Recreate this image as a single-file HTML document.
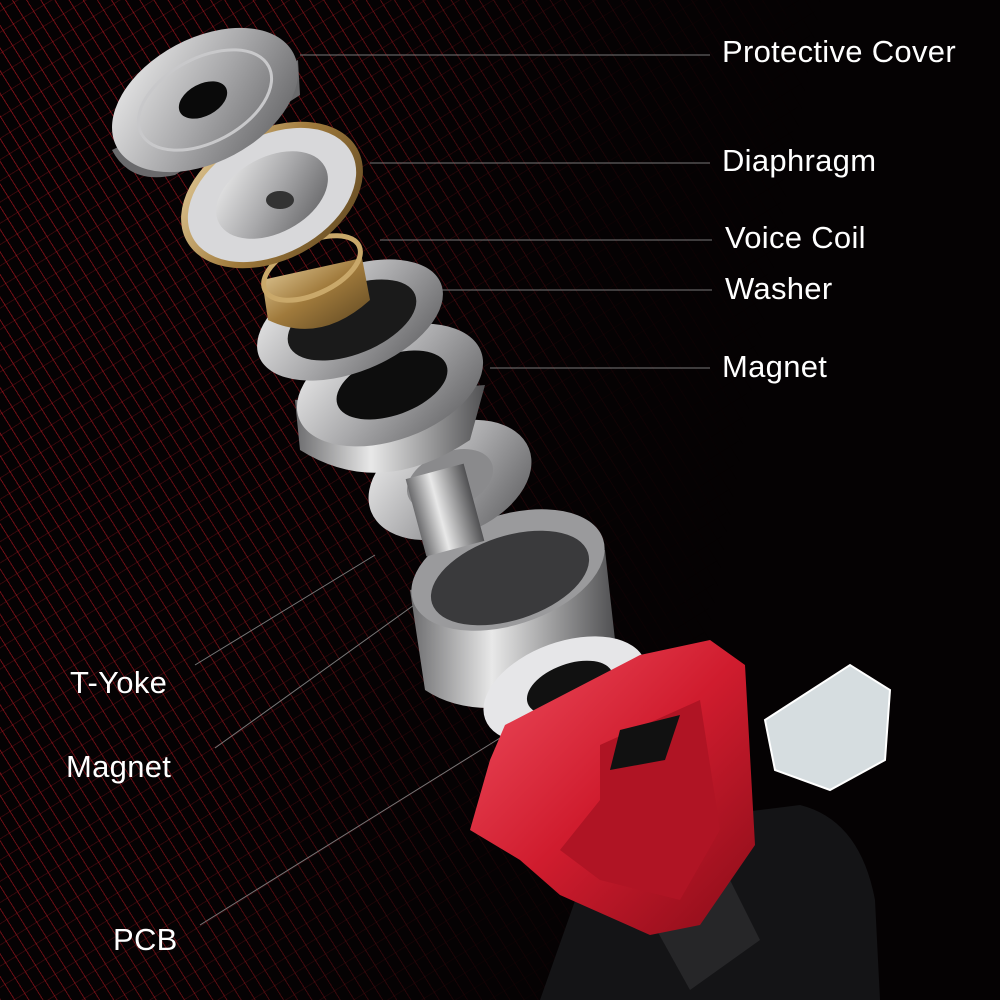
<!DOCTYPE html>
<html><head><meta charset="utf-8"><style>
html,body{margin:0;padding:0;background:#000;}
#c{position:relative;width:1000px;height:1000px;overflow:hidden;background:#050203;}
.pat{position:absolute;left:0;top:0;width:1000px;height:1000px;
background:repeating-linear-gradient(58deg,rgba(190,25,35,0.6) 0 1px,transparent 1px 12px),
repeating-linear-gradient(-32deg,rgba(150,20,28,0.35) 0 1px,transparent 1px 18px);
-webkit-mask-image:linear-gradient(100deg,#000 0%,rgba(0,0,0,.8) 30%,rgba(0,0,0,0.15) 55%,transparent 70%);
mask-image:linear-gradient(100deg,#000 0%,rgba(0,0,0,.8) 30%,rgba(0,0,0,0.15) 55%,transparent 70%);}
svg{position:absolute;left:0;top:0}
.l{position:absolute;color:#fff;font-family:"Liberation Sans",sans-serif;font-size:31px;white-space:nowrap;letter-spacing:0.3px}
</style></head><body><div id="c">
<div class="pat"></div>
<svg width="1000" height="1000" viewBox="0 0 1000 1000">
<defs>
<linearGradient id="m" x1="0" y1="0" x2="1" y2="1"><stop offset="0" stop-color="#f2f2f2"/><stop offset=".5" stop-color="#a9a9ab"/><stop offset="1" stop-color="#5a5a5c"/></linearGradient>
<linearGradient id="m2" x1="0" y1="0" x2="1" y2="0"><stop offset="0" stop-color="#6b6b6d"/><stop offset=".4" stop-color="#e8e8e8"/><stop offset="1" stop-color="#505052"/></linearGradient>
<linearGradient id="g" x1="0" y1="0" x2="1" y2="1"><stop offset="0" stop-color="#e9d3a2"/><stop offset=".5" stop-color="#a07a3c"/><stop offset="1" stop-color="#5c4520"/></linearGradient>
<linearGradient id="r" x1="0" y1="0" x2="1" y2="1"><stop offset="0" stop-color="#f05060"/><stop offset=".5" stop-color="#d01c2e"/><stop offset="1" stop-color="#8a0c18"/></linearGradient>
</defs>
<g stroke="#777" stroke-width="1" fill="none">
<line x1="300" y1="55" x2="710" y2="55"/><line x1="370" y1="163" x2="710" y2="163"/>
<line x1="380" y1="240" x2="712" y2="240"/><line x1="440" y1="290" x2="712" y2="290"/>
<line x1="490" y1="368" x2="710" y2="368"/>
<line x1="195" y1="665" x2="375" y2="555"/><line x1="215" y1="748" x2="435" y2="590"/>
<line x1="200" y1="925" x2="500" y2="738"/>
</g>
<path d="M600 830 L800 805 Q860 820 875 900 L880 1000 L540 1000 Z" fill="#141416"/>
<path d="M640 900 L720 860 L760 940 L690 990 Z" fill="#262628"/>
<path d="M410 590 L425 690 Q470 720 545 700 Q600 680 615 640 L605 550 Z" fill="url(#m2)"/>
<ellipse cx="508" cy="570" rx="100" ry="55" transform="rotate(-18 508 570)" fill="#9a9a9c"/>
<ellipse cx="510" cy="578" rx="82" ry="42" transform="rotate(-18 510 578)" fill="#3a3a3c"/>
<ellipse cx="565" cy="690" rx="85" ry="48" transform="rotate(-20 565 690)" fill="#e6e6e8"/>
<ellipse cx="570" cy="688" rx="45" ry="24" transform="rotate(-20 570 688)" fill="#111"/>
<path d="M505 725 L640 655 L710 640 L745 665 L755 845 L700 925 L650 935 L560 895 L520 860 L470 830 L490 760 Z" fill="url(#r)"/>
<path d="M600 745 L700 700 L720 830 L680 900 L600 880 L560 850 L600 800 Z" fill="#b01424"/>
<path d="M620 730 L680 715 L665 760 L610 770 Z" fill="#111"/>
<path d="M765 720 L850 665 L890 690 L885 760 L830 790 L775 770 Z" fill="#d6dde0" stroke="#fff" stroke-width="2"/>
<ellipse cx="450" cy="480" rx="85" ry="55" transform="rotate(-22 450 480)" fill="url(#m)"/>
<ellipse cx="450" cy="480" rx="45" ry="28" transform="rotate(-22 450 480)" fill="#8a8a8c"/>
<rect x="415" y="470" width="60" height="80" fill="url(#m2)" transform="rotate(-15 445 510)"/>
<path d="M295 400 L300 450 Q380 500 470 440 L485 385 Z" fill="url(#m2)"/>
<ellipse cx="390" cy="385" rx="97" ry="55" transform="rotate(-20 390 385)" fill="url(#m)"/>
<ellipse cx="392" cy="385" rx="58" ry="30" transform="rotate(-20 392 385)" fill="#0d0d0d"/>
<ellipse cx="350" cy="320" rx="98" ry="52" transform="rotate(-22 350 320)" fill="url(#m)"/>
<ellipse cx="352" cy="320" rx="68" ry="34" transform="rotate(-22 352 320)" fill="#1a1a1a"/>
<path d="M262 280 L268 320 Q320 345 370 300 L362 258 Z" fill="url(#g)"/>
<ellipse cx="312" cy="268" rx="52" ry="26" transform="rotate(-25 312 268)" fill="none" stroke="#c9a86a" stroke-width="5"/>
<ellipse cx="272" cy="195" rx="97" ry="65" transform="rotate(-28 272 195)" fill="url(#g)"/>
<ellipse cx="272" cy="195" rx="90" ry="59" transform="rotate(-28 272 195)" fill="#d8d8da"/>
<ellipse cx="272" cy="195" rx="60" ry="38" transform="rotate(-28 272 195)" fill="url(#m)"/>
<ellipse cx="280" cy="200" rx="14" ry="9" fill="#333"/>
<path d="M112 150 Q130 185 175 175 L300 95 L298 60 Z" fill="#6a6a6c"/>
<ellipse cx="205" cy="100" rx="100" ry="62" transform="rotate(-28 205 100)" fill="url(#m)"/>
<ellipse cx="205" cy="100" rx="72" ry="42" transform="rotate(-28 205 100)" fill="none" stroke="#c8c8ca" stroke-width="3"/>
<ellipse cx="203" cy="100" rx="26" ry="16" transform="rotate(-28 203 100)" fill="#0a0a0a"/>
</svg>
<div class="l" style="left:722px;top:34px">Protective Cover</div>
<div class="l" style="left:722px;top:143px">Diaphragm</div>
<div class="l" style="left:725px;top:220px">Voice Coil</div>
<div class="l" style="left:725px;top:271px">Washer</div>
<div class="l" style="left:722px;top:349px">Magnet</div>
<div class="l" style="left:70px;top:665px">T-Yoke</div>
<div class="l" style="left:66px;top:749px">Magnet</div>
<div class="l" style="left:113px;top:922px">PCB</div>
</div></body></html>
